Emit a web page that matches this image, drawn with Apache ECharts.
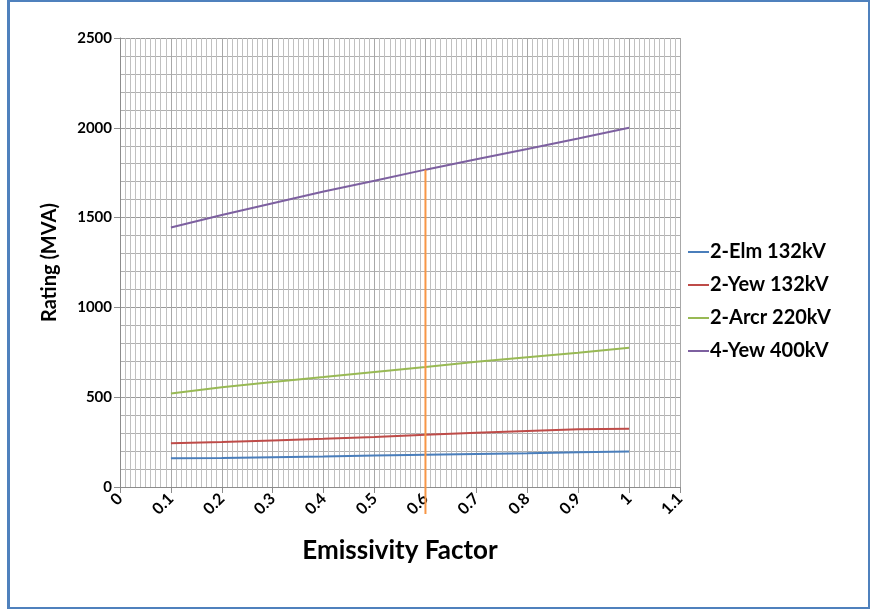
<!DOCTYPE html>
<html>
<head>
<meta charset="utf-8">
<script src="https://cdn.jsdelivr.net/npm/echarts@6/dist/echarts.min.js"></script>
<style>
  html, body { margin: 0; padding: 0; background: #fff; }
  #main { position: absolute; left: 0; top: 0; width: 871px; height: 609px; }
  #frame { position: absolute; left: 7px; top: 0; width: 858px; height: 605px;
           border: 2px solid #4f81bd; border-left-width: 3px; pointer-events: none; }
</style>
</head>
<body>
<div id="main"></div>
<div id="frame"></div>
<script>
// emissivity factor (x)
const emissivity = [0.1, 0.2, 0.3, 0.4, 0.5, 0.6, 0.7, 0.8, 0.9, 1.0];
// rating in MVA per circuit
const elm132 = [160, 162, 166, 170, 175, 180, 184, 188, 193, 197];
const yew132 = [243, 250, 259, 268, 279, 291, 302, 312, 321, 325];
const arcr220 = [520, 555, 585, 612, 640, 668, 697, 723, 748, 775];
const yew400 = [1445, 1515, 1580, 1645, 1705, 1767, 1825, 1882, 1940, 2000];
const seriesNames = ['2-Elm 132kV', '2-Yew 132kV', '2-Arcr 220kV', '4-Yew 400kV'];
const seriesColors = ['#4a7ebb', '#be4b48', '#98b954', '#7d60a0'];
// marker at emissivity 0.6 (drops a little below the axis like the original)
const markerX = [0.6, 0.6];
const markerY = [-150, 1767];

const font = 'Lato, "Open Sans", sans-serif';

function pairs(xs, ys) {
  return xs.map((x, i) => [x, ys[i]]);
}

let chart = echarts.init(document.getElementById('main'), null, { renderer: 'canvas' });

const dataSets = [elm132, yew132, arcr220, yew400];
let series = dataSets.map((d, i) => ({
  name: seriesNames[i],
  type: 'line',
  data: pairs(emissivity, d),
  symbol: 'none',
  lineStyle: { width: 2, color: seriesColors[i] },
  itemStyle: { color: seriesColors[i] },
  animation: false
}));
series.push({
  name: 'marker',
  type: 'line',
  data: pairs(markerX, markerY),
  symbol: 'none',
  clip: false,
  lineStyle: { width: 2, color: '#f79646' },
  animation: false,
  z: 3
});

chart.setOption({
  animation: false,
  grid: { left: 120, right: 191, top: 38, bottom: 122 },
  legend: {
    data: seriesNames,
    orient: 'vertical',
    left: 688,
    top: 242,
    padding: 0,
    icon: 'rect',
    itemWidth: 21,
    itemHeight: 2,
    itemGap: 13,
    textStyle: { fontFamily: font, fontWeight: 'bold', fontSize: 20, color: '#000', padding: [0, 0, 0, -4] }
  },
  xAxis: {
    type: 'value',
    min: 0,
    max: 1.1,
    interval: 0.1,
    name: 'Emissivity Factor',
    nameLocation: 'middle',
    nameGap: 51,
    nameTextStyle: { fontFamily: font, fontWeight: 'bold', fontSize: 26, color: '#000' },
    axisLine: { show: true, lineStyle: { color: '#8c8c8c', width: 1 } },
    axisTick: { show: true, length: 6, lineStyle: { color: '#8c8c8c' } },
    axisLabel: {
      rotate: 45,
      margin: 9,
      fontFamily: font, fontWeight: 'bold', fontSize: 16, color: '#000',
      formatter: v => String(Math.round(v * 10) / 10)
    },
    splitLine: { show: true, lineStyle: { color: '#a8a8a8', width: 1 } },
    minorTick: { show: false, splitNumber: 10 },
    minorSplitLine: { show: true, lineStyle: { color: '#c0c0c0', width: 1 } }
  },
  yAxis: {
    type: 'value',
    min: 0,
    max: 2500,
    interval: 500,
    name: 'Rating (MVA)',
    nameLocation: 'middle',
    nameGap: 60,
    nameTextStyle: { fontFamily: font, fontWeight: 'bold', fontSize: 20, color: '#000' },
    axisLine: { show: true, lineStyle: { color: '#8c8c8c', width: 1 } },
    axisTick: { show: true, length: 6, lineStyle: { color: '#8c8c8c' } },
    axisLabel: {
      margin: 8, fontFamily: font, fontWeight: 'bold', fontSize: 15, color: '#000',
      formatter: v => String(v)
    },
    splitLine: { show: true, lineStyle: { color: '#999999', width: 1 } },
    minorTick: { show: false, splitNumber: 5 },
    minorSplitLine: { show: true, lineStyle: { color: '#b0b0b0', width: 1 } }
  },
  series: series
});
</script>
</body>
</html>
